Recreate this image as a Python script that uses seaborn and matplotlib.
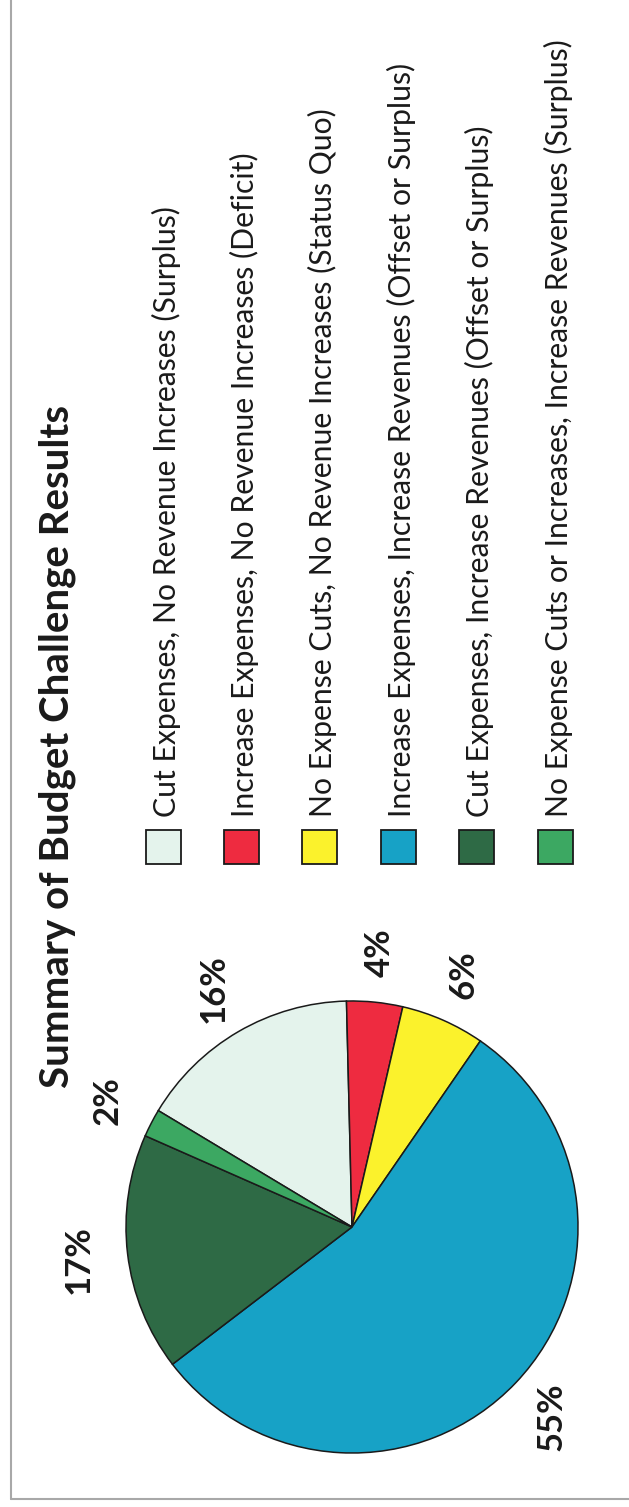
import matplotlib
matplotlib.use("Agg")
import matplotlib.pyplot as plt
from matplotlib.patches import Rectangle
from matplotlib.lines import Line2D
import seaborn as sns

# datos del grafico
categories = [
    "Cut Expenses, No Revenue Increases (Surplus)",
    "Increase Expenses, No Revenue Increases (Deficit)",
    "No Expense Cuts, No Revenue Increases (Status Quo)",
    "Increase Expenses, Increase Revenues (Offset or Surplus)",
    "Cut Expenses, Increase Revenues (Offset or Surplus)",
    "No Expense Cuts or Increases, Increase Revenues (Surplus)",
]
shares = [16, 4, 6, 55, 17, 2]
pct_labels = ["16%", "4%", "6%", "55%", "17%", "2%"]
slice_colors = ["#E4F3EC", "#EE2B40", "#FBF22C", "#17A2C6", "#2E6A45", "#3CA862"]
title = "Summary of Budget Challenge Results"

sns.set_theme(style="white")
plt.rcParams["font.family"] = ["Lato", "DejaVu Sans"]

W, H = 629, 1507
fig = plt.figure(figsize=(W / 100, H / 100), dpi=100)
fig.patch.set_facecolor("white")

# pie, centro (352, 1227) px, radio 226 px
cx, cy, r = 352, 1227, 226
ax = fig.add_axes([(cx - r) / W, (H - cy - r) / H, 2 * r / W, 2 * r / H])
palette = sns.color_palette(slice_colors)
wedges, texts = ax.pie(
    shares,
    labels=pct_labels,
    colors=palette,
    startangle=149,
    counterclock=False,
    labeldistance=1.22,
    wedgeprops={"edgecolor": "#1a1a1a", "linewidth": 1.1},
)
for t in texts:
    t.set_rotation(90)
    t.set_ha("center")
    t.set_va("center")
    t.set_fontsize(25)
    t.set_fontweight("bold")
    t.set_color("#1a1a1a")
ax.set_xlim(-1, 1)
ax.set_ylim(-1, 1)
ax.axis("off")

# titulo (rotado)
fig.text(57 / W, 1 - 746 / H, title, rotation=90, ha="center", va="center",
         fontsize=29, fontweight="bold", color="#1a1a1a")

# leyenda manual, rotada
for i, (lab, col) in enumerate(zip(categories, palette)):
    xc = 163 + 78.4 * i
    fig.add_artist(Rectangle(((xc - 17.5) / W, 1 - 864 / H), 35 / W, 34 / H,
                             transform=fig.transFigure, facecolor=col,
                             edgecolor="#1a1a1a", linewidth=1.3))
    fig.text((xc + 3) / W, 1 - 817 / H, lab, rotation=90, ha="center",
             va="bottom", fontsize=21.7, color="#1a1a1a")

# borde
fig.add_artist(Line2D([11 / W, 11 / W], [1 - 1499 / H, 1], transform=fig.transFigure,
                      color="#a8a8a8", linewidth=1.5))
fig.add_artist(Line2D([11 / W, 1], [1 - 1499 / H, 1 - 1499 / H], transform=fig.transFigure,
                      color="#a8a8a8", linewidth=1.5))

fig.savefig("out.png", dpi=100)
